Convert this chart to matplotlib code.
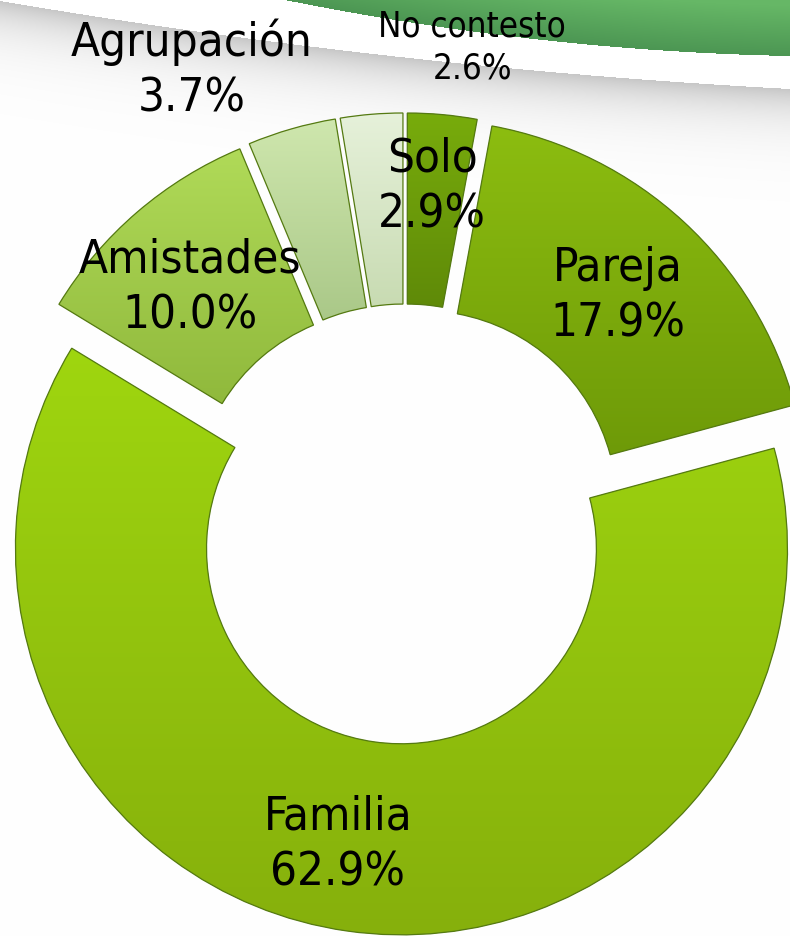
import numpy as np
import matplotlib
matplotlib.use("Agg")
import matplotlib.pyplot as plt
from matplotlib.colors import LinearSegmentedColormap, to_rgb
from matplotlib.patches import PathPatch

# Data (clockwise from 12 o'clock)
categories = ["Solo", "Pareja", "Familia", "Amistades", "Agrupación", "No contesto"]
percent = [2.9, 17.9, 62.9, 10.0, 3.7, 2.6]

# slice colours: (top, bottom) of the vertical gradient
top_colors = ["#78ac0c", "#8cbd10", "#9fd60f", "#b0da58", "#cfe7ae", "#e6f1da"]
bottom_colors = ["#5f8a08", "#6e9a08", "#86b00c", "#90b93c", "#aac888", "#c8dbb2"]

# label centres, in units of the pie radius
label_pos = [(0.07, 0.876), (0.552, 0.593), (-0.174, -0.829),
             (-0.557, 0.614), (-0.552, 1.179), (0.174, 1.238)]
label_size = [34, 34, 34, 34, 34, 25]

W, H = 790, 937
fig = plt.figure(figsize=(W / 100, H / 100), dpi=100)

# decorative slide background: green swoosh and grey shadow
bg = fig.add_axes([0, 0, 1, 1])
xs = np.arange(W) + 0.5
ys = np.arange(H) + 0.5
X, Y = np.meshgrid(xs, ys)
g_curve = np.polyval(np.polyfit([280, 500, 790], [0, 36, 57], 2), X)
s_curve = np.polyval(np.polyfit([0, 400, 790], [2, 58, 90], 2), X)
img = np.ones((H, W, 3))
below = Y > s_curve
shade = 1 - 0.22 * np.exp(-(Y - s_curve) / 28.0)
img[below] = shade[below][:, None]
green = (Y < g_curve) & (X > 280)
t = np.clip((g_curve - Y) / 50.0, 0, 1)
dark = np.array(to_rgb("#4c9653"))
light = np.array(to_rgb("#66b766"))
gcol = dark[None, :] * (1 - t[green])[:, None] + light[None, :] * t[green][:, None]
img[green] = gcol
bg.imshow(img, extent=(0, W, H, 0), aspect="auto", interpolation="bilinear")
bg.axis("off")

ax = fig.add_axes([0, 0, 1, 1])
ax.patch.set_visible(False)
wedges, _ = ax.pie(percent, startangle=90, counterclock=False,
                   explode=[0.065] * len(percent), radius=1.0,
                   wedgeprops=dict(width=0.495, edgecolor="none"))

for w, c1, c2 in zip(wedges, top_colors, bottom_colors):
    w.set_facecolor(c2)
    x0, y0, x1, y1 = w.get_path().get_extents(w.get_patch_transform()).extents
    cmap = LinearSegmentedColormap.from_list("g", [c2, c1])
    im = ax.imshow(np.linspace(0, 1, 256).reshape(-1, 1), cmap=cmap,
                   extent=(x0, x1, y0, y1), origin="lower", aspect="auto",
                   zorder=w.get_zorder() + 0.1)
    im.set_clip_path(w)
    edge = PathPatch(w.get_path(), transform=w.get_transform(),
                     facecolor="none", edgecolor="#557a12",
                     linewidth=0.9, zorder=w.get_zorder() + 0.2)
    ax.add_patch(edge)

for name, val, (lx, ly), fs in zip(categories, percent, label_pos, label_size):
    ax.text(lx, ly, f"{name}\n{val:.1f}%", ha="center", va="center",
            fontsize=fs, family=["DejaVu Sans"], fontstretch="condensed",
            color="black", linespacing=1.3, zorder=10)

# pixel frame: centre at (405, 525), radius 386 px
ax.set_xlim((0 - 405) / 386, (W - 405) / 386)
ax.set_ylim((525 - H) / 386, (525 - 0) / 386)
ax.set_aspect("auto")
ax.axis("off")

fig.savefig("out.png", dpi=100)
